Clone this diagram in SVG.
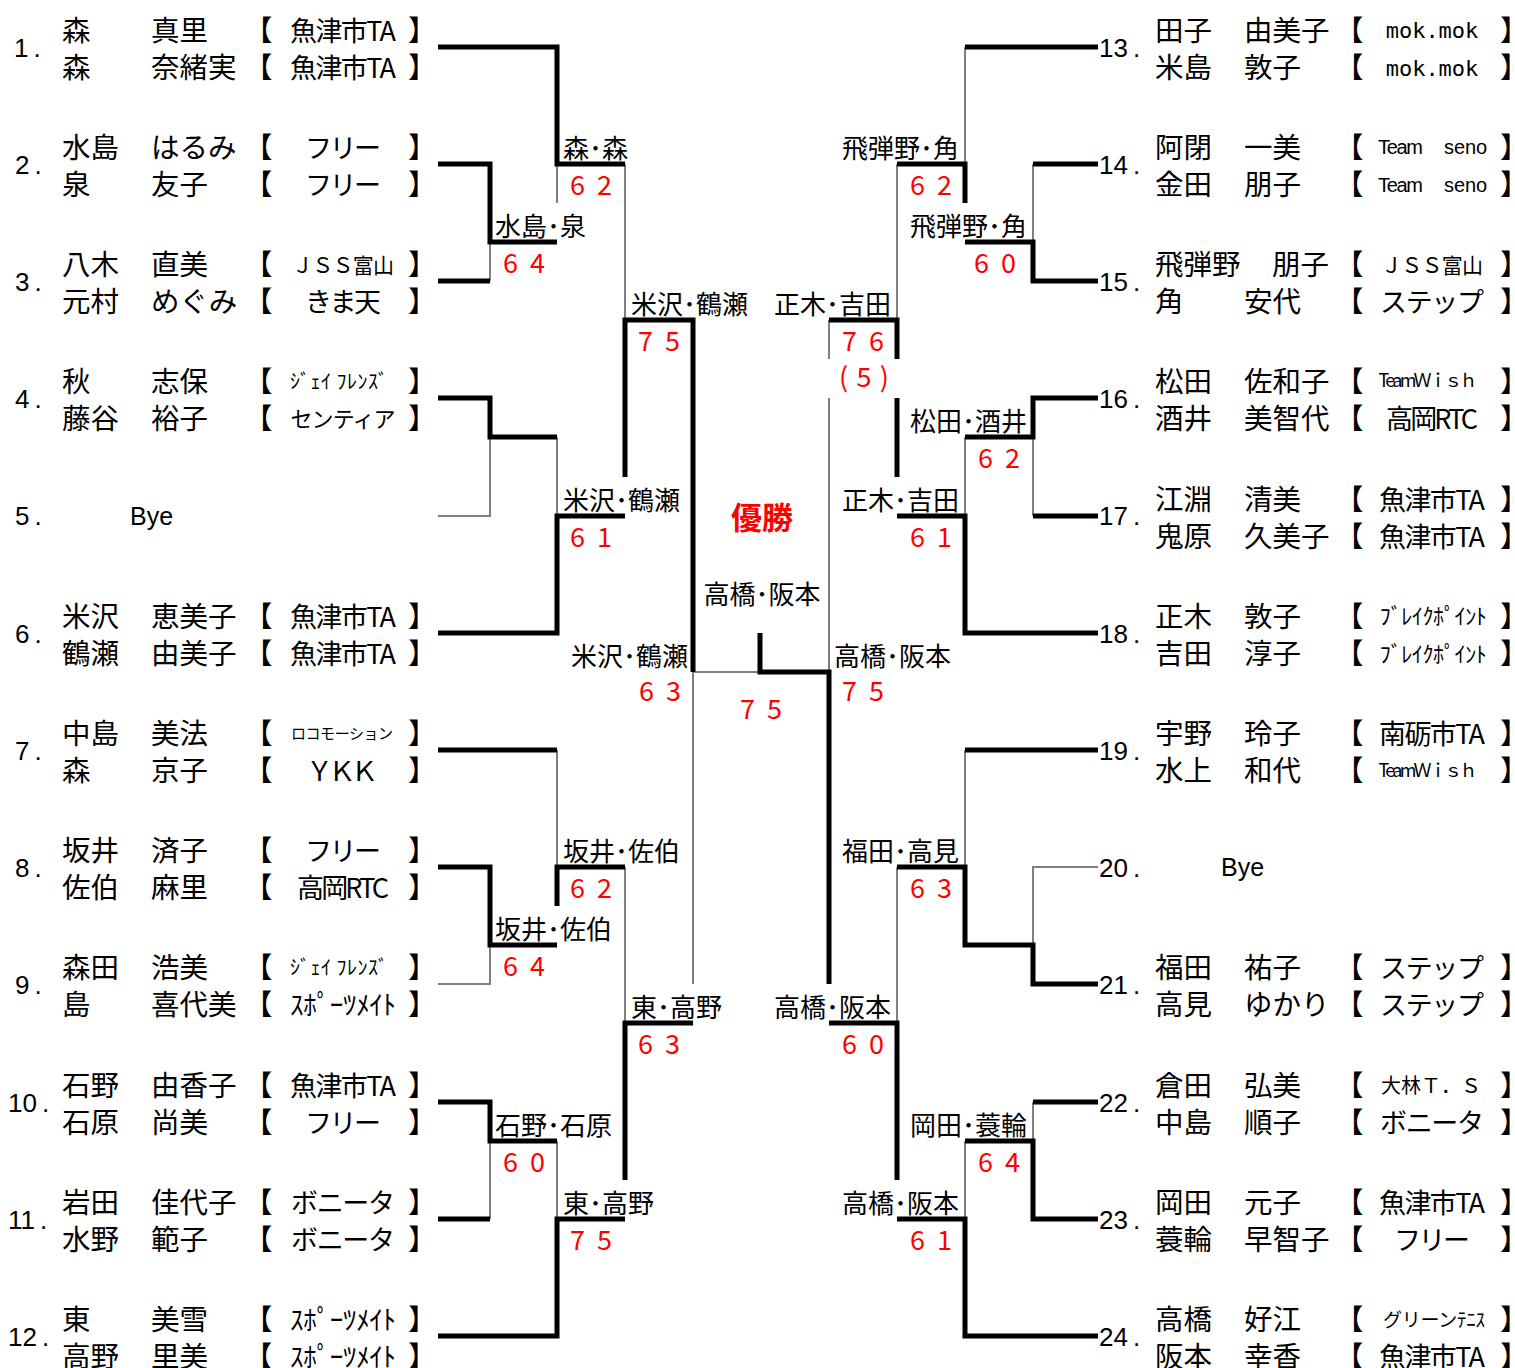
<svg xmlns="http://www.w3.org/2000/svg" width="1515" height="1368" viewBox="0 0 1515 1368">
<style>
.w{fill:none;stroke:#000;stroke-width:5;stroke-linejoin:miter}
.g{fill:none;stroke:#808080;stroke-width:2}
text{font-family:"Noto Sans CJK JP",sans-serif;fill:#000}
.t{font-size:28.5px}
.tm{font-size:27px;text-anchor:middle}
.mono{font-family:"DejaVu Sans Mono",monospace;font-size:22px;text-anchor:middle}
.lat{font-family:"Liberation Sans",Arial,sans-serif;font-size:20px}
.lb{font-size:26px}
.lbe{font-size:26px;text-anchor:end}
.lbm{font-size:26px;text-anchor:middle}
.sc{font-size:27px;fill:#f00;text-anchor:middle}
.num{font-family:"Liberation Sans",Arial,sans-serif;font-size:26px}
.bye{font-family:"Liberation Sans",Arial,sans-serif;font-size:25px}
.win{font-size:31px;font-weight:bold;fill:#f00;text-anchor:middle}
</style>
<rect width="1515" height="1368" fill="#fff"/>
<g id="connectors">
<path class="g" d="M557,164V203M625,164V320M490,242V281M490,437V516H438M557,437V516M693,672V984M693,672H760M557,750V867M490,945V984H438M625,867V1023M490,1141V1219M557,1141V1219M829,398V672M829,320V359M897,164V320M965,47V164M1033,164V242M1033,437V516M965,437V516M965,750V867M1033,945V867H1098M897,867V1023M1033,1102V1141M965,1141V1219"/>
<path class="w" d="M438,47H557V164H625"/>
<path class="w" d="M438,164H490V242H557"/>
<path class="w" d="M438,281H490"/>
<path class="w" d="M438,398H490V437H557"/>
<path class="w" d="M438,633H557V516H625"/>
<path class="w" d="M625,477V320H693V672"/>
<path class="w" d="M693,1023H625V1180"/>
<path class="w" d="M438,750H557"/>
<path class="w" d="M557,906V867H625"/>
<path class="w" d="M438,867H490V945H557"/>
<path class="w" d="M438,1336H557V1219H625"/>
<path class="w" d="M438,1102H490V1141H557"/>
<path class="w" d="M438,1219H490"/>
<path class="w" d="M760,633V672H829V984"/>
<path class="w" d="M829,1023H897V1180"/>
<path class="w" d="M829,320H897V359"/>
<path class="w" d="M897,398V477"/>
<path class="w" d="M897,516H965V633H1098"/>
<path class="w" d="M897,164H965V203"/>
<path class="w" d="M965,47H1098"/>
<path class="w" d="M965,242H1033V281H1098"/>
<path class="w" d="M1033,164H1098"/>
<path class="w" d="M965,437H1033V398H1098"/>
<path class="w" d="M1033,516H1098"/>
<path class="w" d="M965,750H1098"/>
<path class="w" d="M897,867H965V945H1033V984H1098"/>
<path class="w" d="M897,1219H965V1336H1098"/>
<path class="w" d="M965,1141H1033V1219H1098"/>
<path class="w" d="M1033,1102H1098"/>
</g>

<!-- Left entries -->
<g id="entry-1">
<text class="num" x="14" y="57">1<tspan dx="5">.</tspan></text>
<text class="t" x="62" y="41">森</text><text class="t" x="151" y="41">真里</text><text class="t" x="244" y="41">【</text><text class="tm" x="343" y="41" textLength="106">魚津市TA</text><text class="t" x="408" y="41">】</text>
<text class="t" x="62" y="78">森</text><text class="t" x="151" y="78">奈緒実</text><text class="t" x="244" y="78">【</text><text class="tm" x="343" y="78" textLength="106">魚津市TA</text><text class="t" x="408" y="78">】</text>
</g>
<g id="entry-2">
<text class="num" x="15" y="174">2<tspan dx="5">.</tspan></text>
<text class="t" x="62" y="158">水島</text><text class="t" x="151" y="158">はるみ</text><text class="t" x="244" y="158">【</text><text class="tm" x="343" y="158" textLength="76">フリー</text><text class="t" x="408" y="158">】</text>
<text class="t" x="62" y="195">泉</text><text class="t" x="151" y="195">友子</text><text class="t" x="244" y="195">【</text><text class="tm" x="343" y="195" textLength="76">フリー</text><text class="t" x="408" y="195">】</text>
</g>
<g id="entry-3">
<text class="num" x="15" y="291">3<tspan dx="5">.</tspan></text>
<text class="t" x="62" y="275">八木</text><text class="t" x="151" y="275">直美</text><text class="t" x="244" y="275">【</text><text class="tm" x="343" y="273" style="font-size:21px" textLength="102">ＪＳＳ富山</text><text class="t" x="408" y="275">】</text>
<text class="t" x="62" y="312">元村</text><text class="t" x="151" y="312">めぐみ</text><text class="t" x="244" y="312">【</text><text class="tm" x="343" y="312" textLength="76">きま天</text><text class="t" x="408" y="312">】</text>
</g>
<g id="entry-4">
<text class="num" x="15" y="408">4<tspan dx="5">.</tspan></text>
<text class="t" x="62" y="392">秋</text><text class="t" x="151" y="392">志保</text><text class="t" x="244" y="392">【</text><text class="tm" x="339" y="389" style="font-size:20px" textLength="98">ｼﾞｪｲ ﾌﾚﾝｽﾞ</text><text class="t" x="408" y="392">】</text>
<text class="t" x="62" y="429">藤谷</text><text class="t" x="151" y="429">裕子</text><text class="t" x="244" y="429">【</text><text class="tm" x="343" y="427" style="font-size:22px" textLength="105">センティア</text><text class="t" x="408" y="429">】</text>
</g>
<g id="entry-5">
<text class="num" x="15" y="525">5<tspan dx="5">.</tspan></text>
<text class="bye" x="130" y="525">Bye</text>
</g>
<g id="entry-6">
<text class="num" x="15" y="643">6<tspan dx="5">.</tspan></text>
<text class="t" x="62" y="627">米沢</text><text class="t" x="151" y="627">恵美子</text><text class="t" x="244" y="627">【</text><text class="tm" x="343" y="627" textLength="106">魚津市TA</text><text class="t" x="408" y="627">】</text>
<text class="t" x="62" y="664">鶴瀬</text><text class="t" x="151" y="664">由美子</text><text class="t" x="244" y="664">【</text><text class="tm" x="343" y="664" textLength="106">魚津市TA</text><text class="t" x="408" y="664">】</text>
</g>
<g id="entry-7">
<text class="num" x="15" y="760">7<tspan dx="5">.</tspan></text>
<text class="t" x="62" y="744">中島</text><text class="t" x="151" y="744">美法</text><text class="t" x="244" y="744">【</text><text class="tm" x="342" y="739" style="font-size:15px" textLength="102">ロコモーション</text><text class="t" x="408" y="744">】</text>
<text class="t" x="62" y="781">森</text><text class="t" x="151" y="781">京子</text><text class="t" x="244" y="781">【</text><text class="tm" x="342" y="781" textLength="72">ＹＫＫ</text><text class="t" x="408" y="781">】</text>
</g>
<g id="entry-8">
<text class="num" x="15" y="877">8<tspan dx="5">.</tspan></text>
<text class="t" x="62" y="861">坂井</text><text class="t" x="151" y="861">済子</text><text class="t" x="244" y="861">【</text><text class="tm" x="343" y="861" textLength="76">フリー</text><text class="t" x="408" y="861">】</text>
<text class="t" x="62" y="898">佐伯</text><text class="t" x="151" y="898">麻里</text><text class="t" x="244" y="898">【</text><text class="tm" x="343" y="898" textLength="92">高岡RTC</text><text class="t" x="408" y="898">】</text>
</g>
<g id="entry-9">
<text class="num" x="15" y="994">9<tspan dx="5">.</tspan></text>
<text class="t" x="62" y="978">森田</text><text class="t" x="151" y="978">浩美</text><text class="t" x="244" y="978">【</text><text class="tm" x="339" y="975" style="font-size:20px" textLength="98">ｼﾞｪｲ ﾌﾚﾝｽﾞ</text><text class="t" x="408" y="978">】</text>
<text class="t" x="62" y="1015">島</text><text class="t" x="151" y="1015">喜代美</text><text class="t" x="244" y="1015">【</text><text class="tm" x="343" y="1015" textLength="106">ｽﾎﾟｰﾂﾒｲﾄ</text><text class="t" x="408" y="1015">】</text>
</g>
<g id="entry-10">
<text class="num" x="8" y="1112">10<tspan dx="5">.</tspan></text>
<text class="t" x="62" y="1096">石野</text><text class="t" x="151" y="1096">由香子</text><text class="t" x="244" y="1096">【</text><text class="tm" x="343" y="1096" textLength="106">魚津市TA</text><text class="t" x="408" y="1096">】</text>
<text class="t" x="62" y="1133">石原</text><text class="t" x="151" y="1133">尚美</text><text class="t" x="244" y="1133">【</text><text class="tm" x="343" y="1133" textLength="76">フリー</text><text class="t" x="408" y="1133">】</text>
</g>
<g id="entry-11">
<text class="num" x="8" y="1229">11<tspan dx="5">.</tspan></text>
<text class="t" x="62" y="1213">岩田</text><text class="t" x="151" y="1213">佳代子</text><text class="t" x="244" y="1213">【</text><text class="tm" x="343" y="1213" textLength="104">ボニータ</text><text class="t" x="408" y="1213">】</text>
<text class="t" x="62" y="1250">水野</text><text class="t" x="151" y="1250">範子</text><text class="t" x="244" y="1250">【</text><text class="tm" x="343" y="1250" textLength="104">ボニータ</text><text class="t" x="408" y="1250">】</text>
</g>
<g id="entry-12">
<text class="num" x="8" y="1346">12<tspan dx="5">.</tspan></text>
<text class="t" x="62" y="1330">東</text><text class="t" x="151" y="1330">美雪</text><text class="t" x="244" y="1330">【</text><text class="tm" x="343" y="1330" textLength="106">ｽﾎﾟｰﾂﾒｲﾄ</text><text class="t" x="408" y="1330">】</text>
<text class="t" x="62" y="1367">高野</text><text class="t" x="151" y="1367">里美</text><text class="t" x="244" y="1367">【</text><text class="tm" x="343" y="1367" textLength="106">ｽﾎﾟｰﾂﾒｲﾄ</text><text class="t" x="408" y="1367">】</text>
</g>

<!-- Right entries -->
<g id="entry-13">
<text class="num" x="1099" y="57">13<tspan dx="5">.</tspan></text>
<text class="t" x="1155" y="41">田子</text><text class="t" x="1244" y="41">由美子</text><text class="t" x="1335" y="41">【</text><text class="mono" x="1432" y="38">mok.mok</text><text class="t" x="1500" y="41">】</text>
<text class="t" x="1155" y="78">米島</text><text class="t" x="1244" y="78">敦子</text><text class="t" x="1335" y="78">【</text><text class="mono" x="1432" y="76">mok.mok</text><text class="t" x="1500" y="78">】</text>
</g>
<g id="entry-14">
<text class="num" x="1099" y="174">14<tspan dx="5">.</tspan></text>
<text class="t" x="1155" y="158">阿閉</text><text class="t" x="1244" y="158">一美</text><text class="t" x="1335" y="158">【</text><text class="lat" x="1378" y="154" textLength="45">Team</text><text class="lat" x="1444" y="154" textLength="43">seno</text><text class="t" x="1500" y="158">】</text>
<text class="t" x="1155" y="195">金田</text><text class="t" x="1244" y="195">朋子</text><text class="t" x="1335" y="195">【</text><text class="lat" x="1378" y="192" textLength="45">Team</text><text class="lat" x="1444" y="192" textLength="43">seno</text><text class="t" x="1500" y="195">】</text>
</g>
<g id="entry-15">
<text class="num" x="1099" y="291">15<tspan dx="5">.</tspan></text>
<text class="t" x="1155" y="275">飛弾野</text><text class="t" x="1272" y="275">朋子</text><text class="t" x="1335" y="275">【</text><text class="tm" x="1432" y="273" style="font-size:21px" textLength="102">ＪＳＳ富山</text><text class="t" x="1500" y="275">】</text>
<text class="t" x="1155" y="312">角</text><text class="t" x="1244" y="312">安代</text><text class="t" x="1335" y="312">【</text><text class="tm" x="1432" y="312" textLength="104">ステップ</text><text class="t" x="1500" y="312">】</text>
</g>
<g id="entry-16">
<text class="num" x="1099" y="408">16<tspan dx="5">.</tspan></text>
<text class="t" x="1155" y="392">松田</text><text class="t" x="1244" y="392">佐和子</text><text class="t" x="1335" y="392">【</text><text class="tm" x="1428" y="387" style="font-size:18px" textLength="99">TeamＷｉｓｈ</text><text class="t" x="1500" y="392">】</text>
<text class="t" x="1155" y="429">酒井</text><text class="t" x="1244" y="429">美智代</text><text class="t" x="1335" y="429">【</text><text class="tm" x="1432" y="429" textLength="92">高岡RTC</text><text class="t" x="1500" y="429">】</text>
</g>
<g id="entry-17">
<text class="num" x="1099" y="525">17<tspan dx="5">.</tspan></text>
<text class="t" x="1155" y="510">江淵</text><text class="t" x="1244" y="510">清美</text><text class="t" x="1335" y="510">【</text><text class="tm" x="1432" y="510" textLength="106">魚津市TA</text><text class="t" x="1500" y="510">】</text>
<text class="t" x="1155" y="547">鬼原</text><text class="t" x="1244" y="547">久美子</text><text class="t" x="1335" y="547">【</text><text class="tm" x="1432" y="547" textLength="106">魚津市TA</text><text class="t" x="1500" y="547">】</text>
</g>
<g id="entry-18">
<text class="num" x="1099" y="643">18<tspan dx="5">.</tspan></text>
<text class="t" x="1155" y="627">正木</text><text class="t" x="1244" y="627">敦子</text><text class="t" x="1335" y="627">【</text><text class="tm" x="1433" y="624" style="font-size:22px" textLength="107">ﾌﾞﾚｲｸﾎﾟｲﾝﾄ</text><text class="t" x="1500" y="627">】</text>
<text class="t" x="1155" y="664">吉田</text><text class="t" x="1244" y="664">淳子</text><text class="t" x="1335" y="664">【</text><text class="tm" x="1433" y="662" style="font-size:22px" textLength="107">ﾌﾞﾚｲｸﾎﾟｲﾝﾄ</text><text class="t" x="1500" y="664">】</text>
</g>
<g id="entry-19">
<text class="num" x="1099" y="760">19<tspan dx="5">.</tspan></text>
<text class="t" x="1155" y="744">宇野</text><text class="t" x="1244" y="744">玲子</text><text class="t" x="1335" y="744">【</text><text class="tm" x="1432" y="744" textLength="106">南砺市TA</text><text class="t" x="1500" y="744">】</text>
<text class="t" x="1155" y="781">水上</text><text class="t" x="1244" y="781">和代</text><text class="t" x="1335" y="781">【</text><text class="tm" x="1428" y="777" style="font-size:18px" textLength="99">TeamＷｉｓｈ</text><text class="t" x="1500" y="781">】</text>
</g>
<g id="entry-20">
<text class="num" x="1099" y="877">20<tspan dx="5">.</tspan></text>
<text class="bye" x="1221" y="876">Bye</text>
</g>
<g id="entry-21">
<text class="num" x="1099" y="994">21<tspan dx="5">.</tspan></text>
<text class="t" x="1155" y="978">福田</text><text class="t" x="1244" y="978">祐子</text><text class="t" x="1335" y="978">【</text><text class="tm" x="1432" y="978" textLength="104">ステップ</text><text class="t" x="1500" y="978">】</text>
<text class="t" x="1155" y="1015">高見</text><text class="t" x="1244" y="1015">ゆかり</text><text class="t" x="1335" y="1015">【</text><text class="tm" x="1432" y="1015" textLength="104">ステップ</text><text class="t" x="1500" y="1015">】</text>
</g>
<g id="entry-22">
<text class="num" x="1099" y="1112">22<tspan dx="5">.</tspan></text>
<text class="t" x="1155" y="1096">倉田</text><text class="t" x="1244" y="1096">弘美</text><text class="t" x="1335" y="1096">【</text><text class="tm" x="1431" y="1093" style="font-size:20px" textLength="100">大林Ｔ．Ｓ</text><text class="t" x="1500" y="1096">】</text>
<text class="t" x="1155" y="1133">中島</text><text class="t" x="1244" y="1133">順子</text><text class="t" x="1335" y="1133">【</text><text class="tm" x="1432" y="1133" textLength="104">ボニータ</text><text class="t" x="1500" y="1133">】</text>
</g>
<g id="entry-23">
<text class="num" x="1099" y="1229">23<tspan dx="5">.</tspan></text>
<text class="t" x="1155" y="1213">岡田</text><text class="t" x="1244" y="1213">元子</text><text class="t" x="1335" y="1213">【</text><text class="tm" x="1432" y="1213" textLength="106">魚津市TA</text><text class="t" x="1500" y="1213">】</text>
<text class="t" x="1155" y="1250">蓑輪</text><text class="t" x="1244" y="1250">早智子</text><text class="t" x="1335" y="1250">【</text><text class="tm" x="1432" y="1250" textLength="76">フリー</text><text class="t" x="1500" y="1250">】</text>
</g>
<g id="entry-24">
<text class="num" x="1099" y="1346">24<tspan dx="5">.</tspan></text>
<text class="t" x="1155" y="1330">高橋</text><text class="t" x="1244" y="1330">好江</text><text class="t" x="1335" y="1330">【</text><text class="tm" x="1434" y="1327" style="font-size:19px" textLength="102">グリーンﾃﾆｽ</text><text class="t" x="1500" y="1330">】</text>
<text class="t" x="1155" y="1367">阪本</text><text class="t" x="1244" y="1367">幸香</text><text class="t" x="1335" y="1367">【</text><text class="tm" x="1432" y="1367" textLength="106">魚津市TA</text><text class="t" x="1500" y="1367">】</text>
</g>

<!-- Left matches -->
<g id="m-l1"><text class="lb" x="563" y="158">森･森</text><text class="sc" x="591" y="195" textLength="42">6 2</text></g>
<g id="m-l2"><text class="lb" x="495" y="236">水島･泉</text><text class="sc" x="524" y="273" textLength="42">6 4</text></g>
<g id="m-l3"><text class="lb" x="631" y="314">米沢･鶴瀬</text><text class="sc" x="659" y="351" textLength="42">7 5</text></g>
<g id="m-l4"><text class="lb" x="563" y="510">米沢･鶴瀬</text><text class="sc" x="591" y="547" textLength="42">6 1</text></g>
<g id="m-l5"><text class="lbe" x="688" y="666">米沢･鶴瀬</text><text class="sc" x="660" y="701" textLength="42">6 3</text></g>
<g id="m-l6"><text class="lb" x="563" y="861">坂井･佐伯</text><text class="sc" x="591" y="898" textLength="42">6 2</text></g>
<g id="m-l7"><text class="lb" x="495" y="939">坂井･佐伯</text><text class="sc" x="524" y="976" textLength="42">6 4</text></g>
<g id="m-l8"><text class="lb" x="631" y="1017">東･高野</text><text class="sc" x="659" y="1054" textLength="42">6 3</text></g>
<g id="m-l9"><text class="lb" x="495" y="1135">石野･石原</text><text class="sc" x="524" y="1172" textLength="42">6 0</text></g>
<g id="m-l10"><text class="lb" x="563" y="1213">東･高野</text><text class="sc" x="591" y="1250" textLength="42">7 5</text></g>

<!-- Final -->
<g id="final"><text class="win" x="762" y="529">優勝</text><text class="lbm" x="762" y="604">高橋･阪本</text><text class="sc" x="761" y="719" textLength="42">7 5</text></g>

<!-- Right matches -->
<g id="m-r1"><text class="lbe" x="959" y="158">飛弾野･角</text><text class="sc" x="931" y="195" textLength="42">6 2</text></g>
<g id="m-r2"><text class="lbe" x="1027" y="236">飛弾野･角</text><text class="sc" x="995" y="273" textLength="42">6 0</text></g>
<g id="m-r3"><text class="lbe" x="891" y="314">正木･吉田</text><text class="sc" x="863" y="351" textLength="42">7 6</text><text class="sc" x="864" y="387" textLength="50">(5)</text></g>
<g id="m-r4"><text class="lbe" x="1027" y="431">松田･酒井</text><text class="sc" x="999" y="468" textLength="42">6 2</text></g>
<g id="m-r5"><text class="lbe" x="959" y="510">正木･吉田</text><text class="sc" x="931" y="547" textLength="42">6 1</text></g>
<g id="m-r6"><text class="lb" x="834" y="666">高橋･阪本</text><text class="sc" x="863" y="701" textLength="42">7 5</text></g>
<g id="m-r7"><text class="lbe" x="959" y="861">福田･高見</text><text class="sc" x="931" y="898" textLength="42">6 3</text></g>
<g id="m-r8"><text class="lbe" x="891" y="1017">高橋･阪本</text><text class="sc" x="863" y="1054" textLength="42">6 0</text></g>
<g id="m-r9"><text class="lbe" x="1027" y="1135">岡田･蓑輪</text><text class="sc" x="999" y="1172" textLength="42">6 4</text></g>
<g id="m-r10"><text class="lbe" x="959" y="1213">高橋･阪本</text><text class="sc" x="931" y="1250" textLength="42">6 1</text></g>
</svg>
